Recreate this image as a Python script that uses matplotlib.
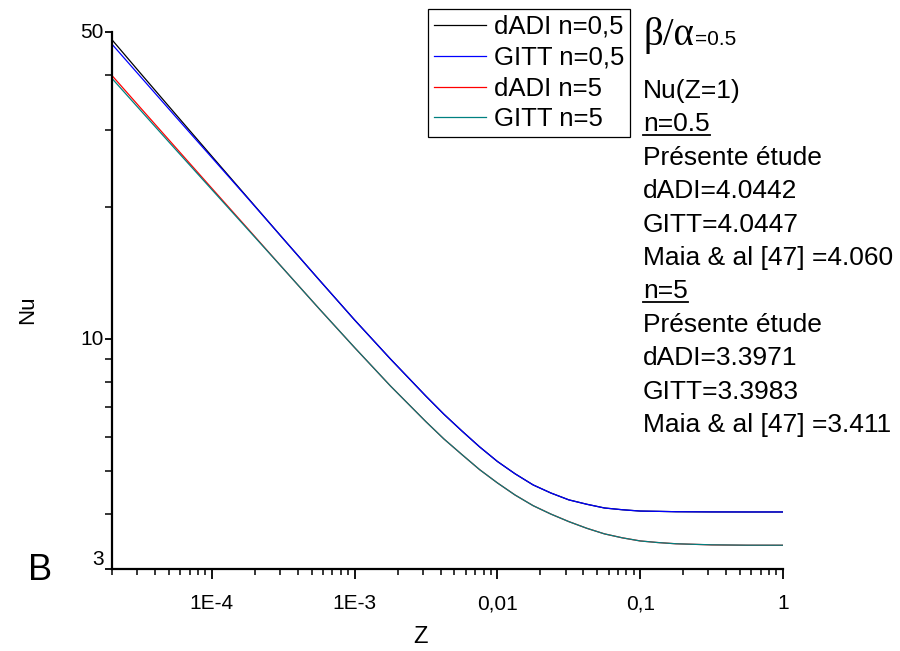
import matplotlib
matplotlib.use('Agg')
import matplotlib.pyplot as plt
from matplotlib.ticker import FixedLocator, FixedFormatter, NullFormatter, LogLocator
from matplotlib.lines import Line2D

plt.rcParams['font.family'] = ['Liberation Sans', 'DejaVu Sans']

# Z axial position and local Nusselt number
z = [2e-5, 3.16e-5, 5.62e-5, 1e-4, 1.78e-4, 3.16e-4, 5.62e-4, 1e-3, 1.78e-3,
     3.16e-3, 4.22e-3, 5.62e-3, 7.5e-3, 0.01, 0.0133, 0.0178, 0.0237, 0.0316,
     0.0422, 0.0562, 0.075, 0.1, 0.133, 0.178, 0.316, 0.562, 1.0]
nu_dadi_05 = [48.0, 40.31, 32.41, 26.08, 21.00, 16.93, 13.67, 11.06, 9.02,
              7.42, 6.75, 6.19, 5.69, 5.27, 4.94, 4.66, 4.467, 4.31,
              4.212, 4.13, 4.092, 4.064, 4.058, 4.050, 4.0455, 4.0443, 4.0442]
nu_gitt_05 = [46.9, 39.6, 32.0, 25.9, 20.95, 16.93, 13.67, 11.06, 9.02,
              7.42, 6.75, 6.19, 5.69, 5.27, 4.94, 4.66, 4.467, 4.31,
              4.212, 4.13, 4.092, 4.064, 4.058, 4.050, 4.0458, 4.0448, 4.0447]
nu_dadi_5 = [39.8, 33.63, 27.23, 22.05, 17.87, 14.48, 11.75, 9.57, 7.83,
             6.49, 5.93, 5.47, 5.05, 4.71, 4.42, 4.18, 4.00, 3.846,
             3.714, 3.606, 3.532, 3.475, 3.446, 3.424, 3.404, 3.3976, 3.3971]
nu_gitt_5 = [39.2, 33.2, 26.95, 21.9, 17.8, 14.48, 11.75, 9.57, 7.83,
             6.49, 5.93, 5.47, 5.05, 4.71, 4.42, 4.18, 4.00, 3.846,
             3.714, 3.606, 3.532, 3.475, 3.446, 3.424, 3.405, 3.3988, 3.3983]

series_labels = ['dADI n=0,5', 'GITT n=0,5', 'dADI n=5', 'GITT n=5']
series_colors = ['black', '#0000ff', '#ff0000', '#008080']

x_major = [1e-4, 1e-3, 1e-2, 0.1, 1]
x_labels = ['1E-4', '1E-3', '0,01', '0,1', '1']
y_major = [3, 10, 50]
y_labels = ['3', '10', '50']
y_minor = [4, 5, 6, 7, 8, 9, 20, 30, 40]

info_lines = ['Nu(Z=1)', 'n=0.5', 'Présente étude', 'dADI=4.0442', 'GITT=4.0447',
              'Maia & al [47] =4.060', 'n=5', 'Présente étude', 'dADI=3.3971',
              'GITT=3.3983', 'Maia & al [47] =3.411']
underlined = ['n=0.5', 'n=5']

W, H = 900, 651
fig = plt.figure(figsize=(9, 6.51), dpi=100)
ax = fig.add_axes([112 / W, 1 - 569 / H, (783 - 112) / W, (569 - 32) / H])

for vals, lab, col in zip([nu_dadi_05, nu_gitt_05, nu_dadi_5, nu_gitt_5],
                          series_labels, series_colors):
    ax.plot(z, vals, color=col, linewidth=0.9, label=lab)

ax.set_xscale('log')
ax.set_yscale('log')
ax.set_xlim(2e-5, 1)
ax.set_ylim(3, 50)

ax.xaxis.set_major_locator(FixedLocator(x_major))
ax.xaxis.set_major_formatter(FixedFormatter(x_labels))
ax.xaxis.set_minor_locator(LogLocator(base=10, subs=range(2, 10)))
ax.xaxis.set_minor_formatter(NullFormatter())
ax.yaxis.set_major_locator(FixedLocator(y_major))
ax.yaxis.set_major_formatter(FixedFormatter(y_labels))
ax.yaxis.set_minor_locator(FixedLocator(y_minor))
ax.yaxis.set_minor_formatter(NullFormatter())

for s in ['top', 'right']:
    ax.spines[s].set_visible(False)
for s in ['left', 'bottom']:
    ax.spines[s].set_linewidth(1.6)

ax.tick_params(axis='x', which='major', direction='out', length=7, width=1.3,
               labelsize=15, pad=11)
ax.tick_params(axis='x', which='minor', direction='out', length=4, width=1.1)
ax.tick_params(axis='y', which='major', direction='out', length=5, width=1.3,
               labelsize=15, pad=1)
ax.tick_params(axis='y', which='minor', direction='out', length=5, width=1.1)

leg = ax.legend(loc='upper left', bbox_to_anchor=(428 / W, 1 - 9 / H),
                bbox_transform=fig.transFigure, borderaxespad=0,
                fontsize=18.5, frameon=True, fancybox=False, framealpha=1,
                edgecolor='black', handlelength=2.05, handletextpad=0.3,
                labelspacing=0.27, borderpad=0.22)
leg.get_frame().set_linewidth(0.9)

fig.text(28 / W, 1 - 310 / H, 'Nu', rotation=90, fontsize=16, ha='center', va='center')
fig.text(420 / W, 1 - 637 / H, 'Z', fontsize=17, ha='center', va='center')
fig.text(40 / W, 1 - 571 / H, 'B', fontsize=26, ha='center', va='center')

# beta/alpha heading
t = fig.text(643 / W, 1 - 45 / H, 'β/α', fontsize=28,
             family=['Liberation Serif', 'DejaVu Serif'], va='baseline')
t2 = fig.text(0, 0, '=0.5', fontsize=15, va='baseline')
texts = []
for i, s in enumerate(info_lines):
    tt = fig.text(643 / W, 1 - (98 + 33.4 * i) / H, s, fontsize=19, va='baseline')
    texts.append(tt)

fig.canvas.draw()
r = fig.canvas.get_renderer()
# y tick labels: "3" rests above the axis, the others are centred on their tick
for lbl in ax.get_yticklabels():
    lbl.set_va('bottom' if lbl.get_text() == '3' else 'center')
# place "=0.5" right after the greek letters
bb = t.get_window_extent(r)
t2.set_position(((bb.x1 + 1) / W, 1 - 45 / H))
# underline the n= headings
for tt in texts:
    if tt.get_text() in underlined:
        b = tt.get_window_extent(r)
        x0, y = tt.get_position()
        yl = y - 4 / H
        fig.add_artist(Line2D([b.x0 / W, b.x1 / W], [yl, yl], color='black',
                              linewidth=1.3, transform=fig.transFigure))

fig.savefig('out.png', dpi=100)
